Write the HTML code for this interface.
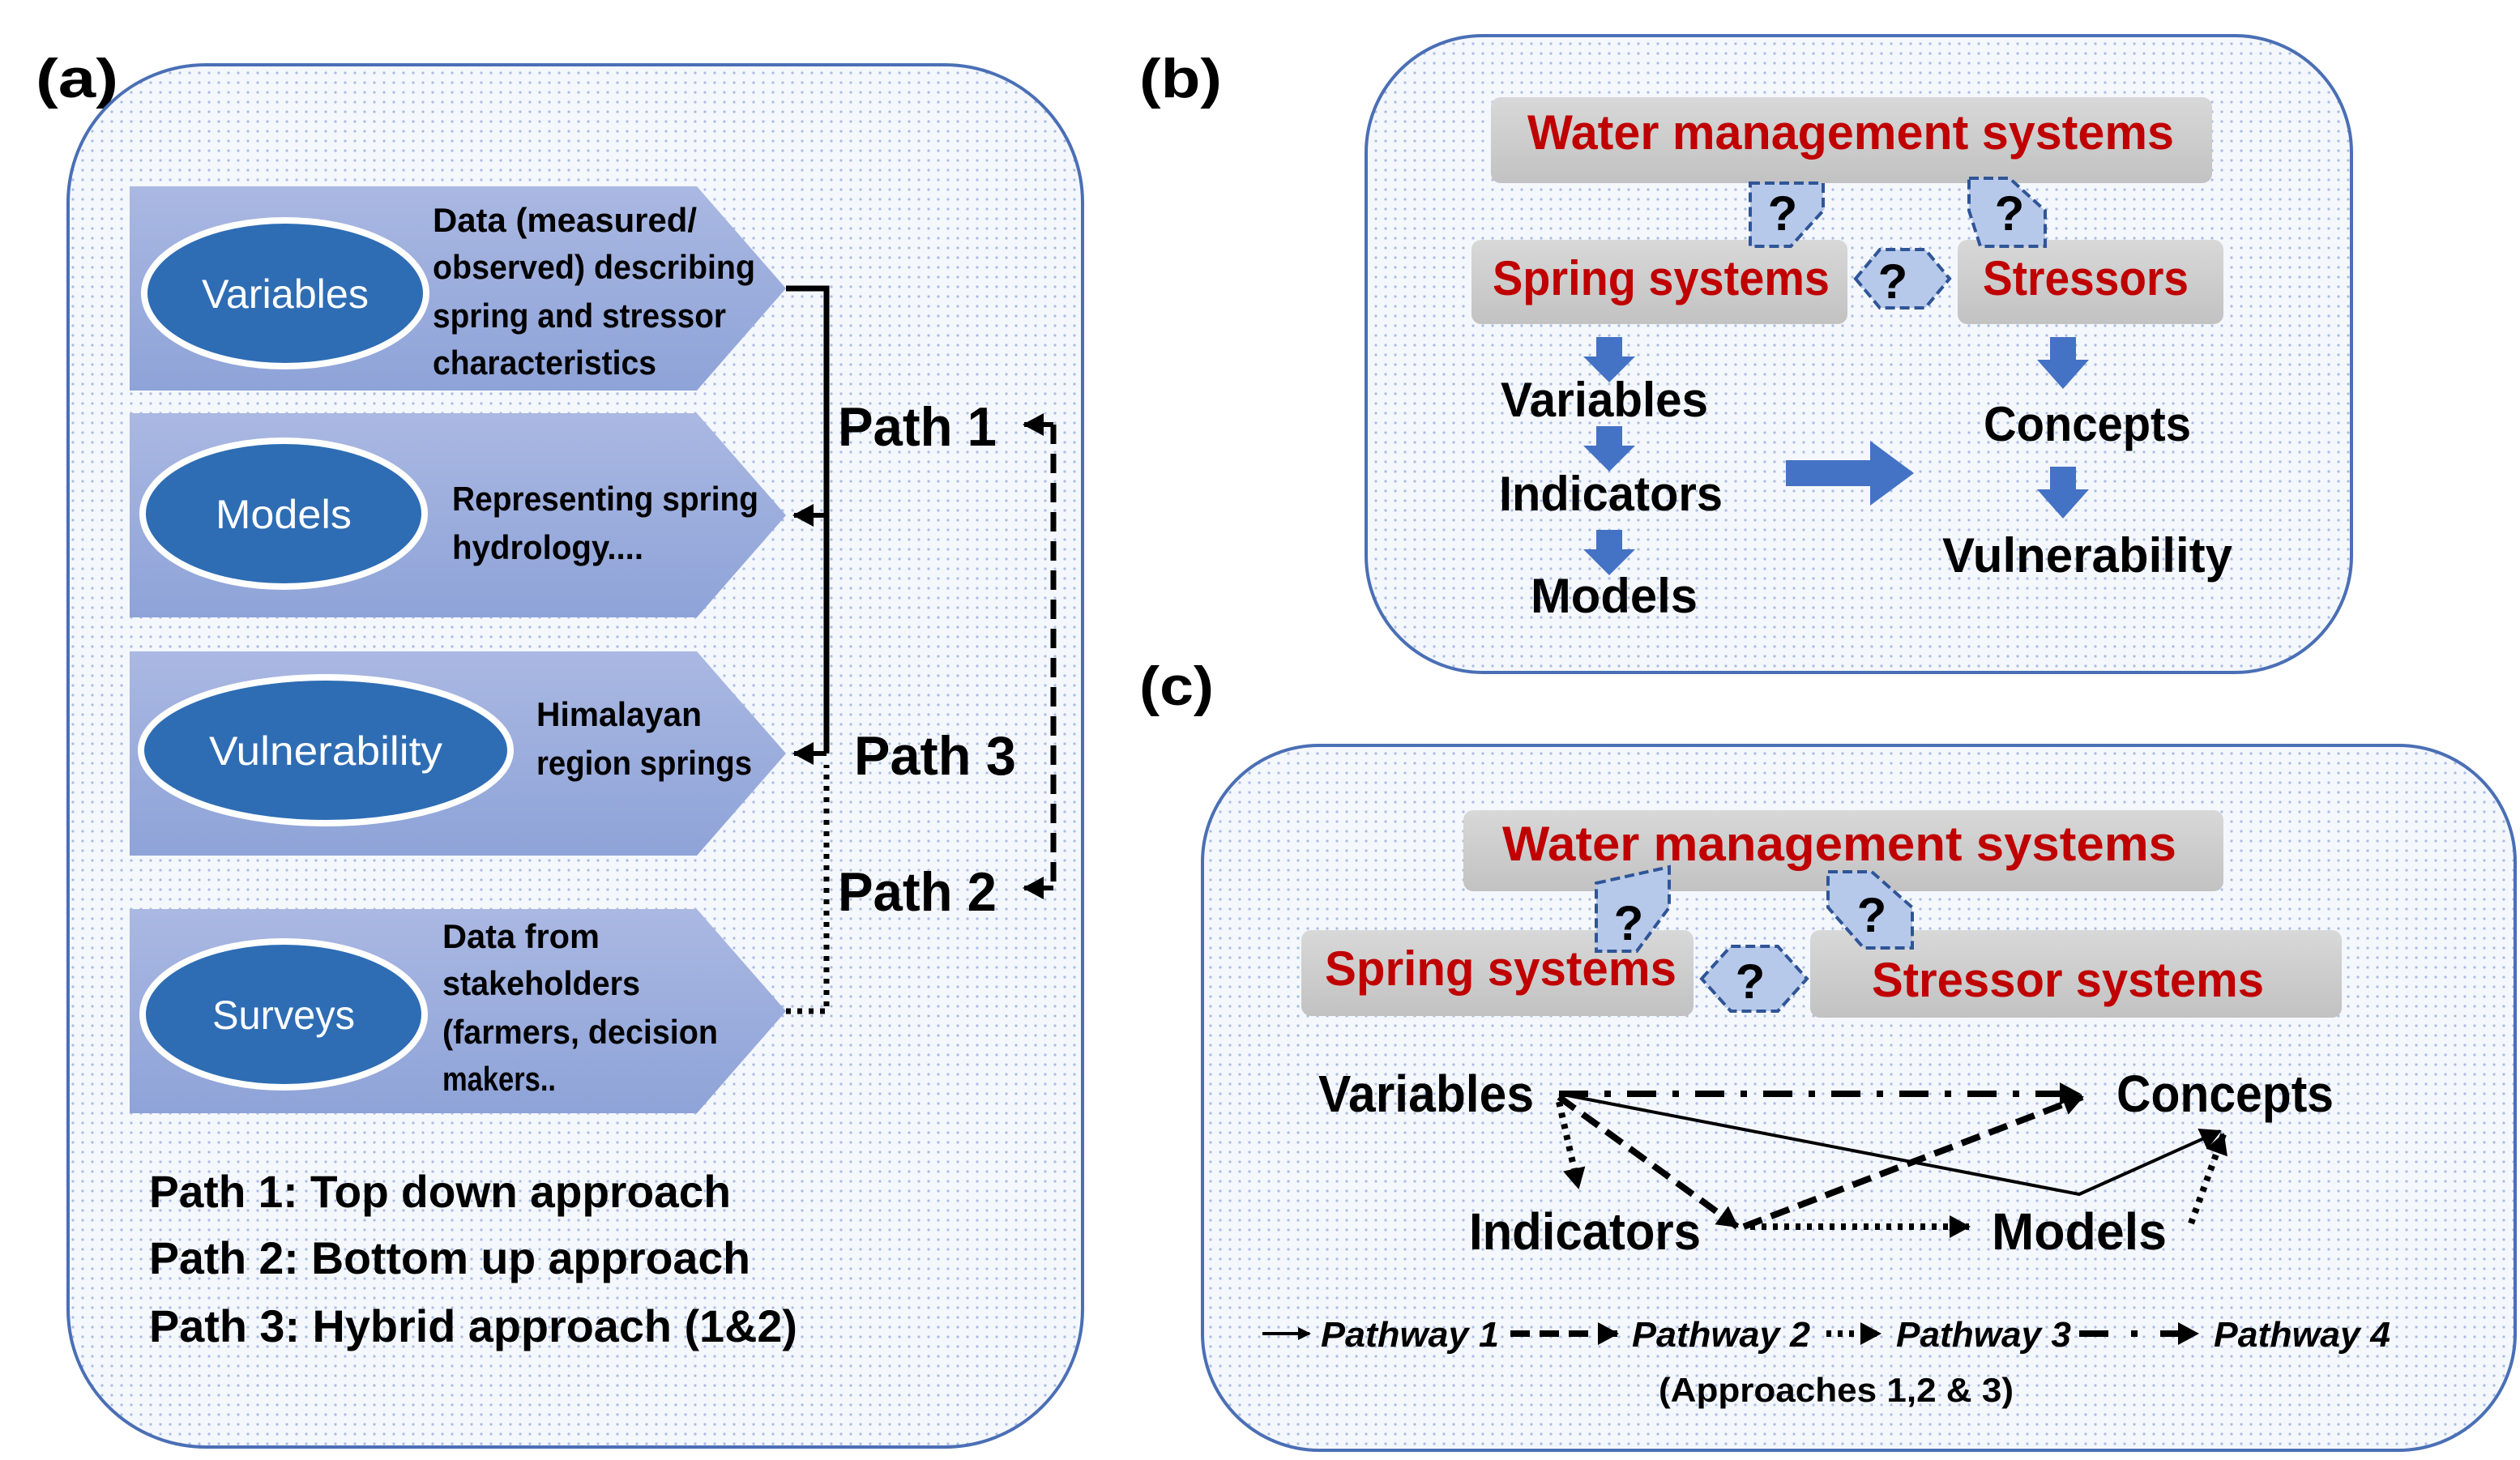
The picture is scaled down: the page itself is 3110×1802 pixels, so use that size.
<!DOCTYPE html>
<html><head><meta charset="utf-8"><style>
html,body{margin:0;padding:0;background:#fff}
svg{display:block}
text{font-family:"Liberation Sans Narrow","Liberation Sans",sans-serif;font-weight:bold}
</style></head><body>
<svg width="3110" height="1802" viewBox="0 0 1555 901" xmlns="http://www.w3.org/2000/svg">
<defs>
<pattern id="dots" width="6" height="6" patternUnits="userSpaceOnUse">
<rect width="6" height="6" fill="#f4f7fc"/><circle cx="3" cy="3" r="0.8" fill="#a9bde3"/>
</pattern>
<linearGradient id="chev" x1="0" y1="0" x2="0" y2="1"><stop offset="0" stop-color="#aab8e2"/><stop offset="1" stop-color="#8ea3d8"/></linearGradient>
<linearGradient id="gray" x1="0" y1="0" x2="0" y2="1"><stop offset="0" stop-color="#d8d8d8"/><stop offset="1" stop-color="#c2c2c2"/></linearGradient>
<marker id="ah" markerWidth="8" markerHeight="8" refX="7" refY="4" orient="auto" markerUnits="userSpaceOnUse"><path d="M0,0 L8,4 L0,8z" fill="#000"/></marker>
<marker id="ahL" markerWidth="14" markerHeight="14" refX="12" refY="7" orient="auto" markerUnits="userSpaceOnUse"><path d="M0,0 L13,7 L0,14z" fill="#000"/></marker>
</defs>

<!-- Panel a -->
<text x="22" y="60" font-size="34" fill="#000" textLength="51" lengthAdjust="spacingAndGlyphs">(a)</text>
<rect x="42" y="40" width="626" height="853" rx="85" fill="url(#dots)" stroke="#4a6fb5" stroke-width="2"/>
<g fill="url(#chev)">
<path d="M80,115 L430,115 L485,178 L430,241 L80,241z"/>
<path d="M80,255 L430,255 L485,318 L430,381 L80,381z"/>
<path d="M80,402 L430,402 L485,465 L430,528 L80,528z"/>
<path d="M80,561 L430,561 L485,624 L430,687 L80,687z"/>
</g>
<g fill="#2e6db4" stroke="#fff" stroke-width="4">
<ellipse cx="176" cy="181" rx="87" ry="45"/>
<ellipse cx="175" cy="317" rx="87" ry="45"/>
<ellipse cx="201" cy="463" rx="114" ry="45"/>
<ellipse cx="175" cy="626" rx="87" ry="45"/>
</g>
<g fill="#fff" font-size="25" text-anchor="middle">
<text x="176" y="190" style="font-weight:normal" textLength="103" lengthAdjust="spacingAndGlyphs">Variables</text>
<text x="175" y="326" style="font-weight:normal" textLength="84" lengthAdjust="spacingAndGlyphs">Models</text>
<text x="201" y="472" style="font-weight:normal" textLength="144" lengthAdjust="spacingAndGlyphs">Vulnerability</text>
<text x="175" y="635" style="font-weight:normal" textLength="88" lengthAdjust="spacingAndGlyphs">Surveys</text>
</g>
<g fill="#000" font-size="21">
<text x="267" y="143" textLength="163" lengthAdjust="spacingAndGlyphs">Data (measured/</text>
<text x="267" y="172" textLength="199" lengthAdjust="spacingAndGlyphs">observed) describing</text>
<text x="267" y="202" textLength="181" lengthAdjust="spacingAndGlyphs">spring and stressor</text>
<text x="267" y="231" textLength="138" lengthAdjust="spacingAndGlyphs">characteristics</text>
<text x="279" y="315" textLength="189" lengthAdjust="spacingAndGlyphs">Representing spring</text>
<text x="279" y="345" textLength="118" lengthAdjust="spacingAndGlyphs">hydrology....</text>
<text x="331" y="448" textLength="102" lengthAdjust="spacingAndGlyphs">Himalayan</text>
<text x="331" y="478" textLength="133" lengthAdjust="spacingAndGlyphs">region springs</text>
<text x="273" y="585" textLength="97" lengthAdjust="spacingAndGlyphs">Data from</text>
<text x="273" y="614" textLength="122" lengthAdjust="spacingAndGlyphs">stakeholders</text>
<text x="273" y="644" textLength="170" lengthAdjust="spacingAndGlyphs">(farmers, decision</text>
<text x="273" y="673" textLength="70" lengthAdjust="spacingAndGlyphs">makers..</text>
</g>
<path d="M485,178 L510,178 L510,465" fill="none" stroke="#000" stroke-width="3.5"/>
<path d="M510,318 L490,318" stroke="#000" stroke-width="3" marker-end="url(#ahL)"/>
<path d="M510,465 L490,465" stroke="#000" stroke-width="3" marker-end="url(#ahL)"/>
<path d="M485,624 L510,624 L510,472" fill="none" stroke="#000" stroke-width="3.5" stroke-dasharray="3,4"/>
<path d="M650,262 L650,548" stroke="#000" stroke-width="3.5" stroke-dasharray="12,6"/>
<path d="M650,262 L632,262" stroke="#000" stroke-width="3" marker-end="url(#ahL)"/>
<path d="M650,548 L632,548" stroke="#000" stroke-width="3" marker-end="url(#ahL)"/>
<g fill="#000" font-size="34">
<text x="517" y="275" textLength="98" lengthAdjust="spacingAndGlyphs">Path 1</text>
<text x="527" y="478" textLength="100" lengthAdjust="spacingAndGlyphs">Path 3</text>
<text x="517" y="562" textLength="98" lengthAdjust="spacingAndGlyphs">Path 2</text>
</g>
<g fill="#000" font-size="28">
<text x="92" y="745" textLength="359" lengthAdjust="spacingAndGlyphs">Path 1: Top down approach</text>
<text x="92" y="786" textLength="371" lengthAdjust="spacingAndGlyphs">Path 2: Bottom up approach</text>
<text x="92" y="828" textLength="400" lengthAdjust="spacingAndGlyphs">Path 3: Hybrid approach (1&amp;2)</text>
</g>

<!-- Panel b -->
<text x="703" y="60" font-size="34" fill="#000" textLength="51" lengthAdjust="spacingAndGlyphs">(b)</text>
<rect x="843" y="22" width="608" height="393" rx="72" fill="url(#dots)" stroke="#4a6fb5" stroke-width="2"/>
<rect x="920" y="60" width="445" height="53" rx="6" fill="url(#gray)"/>
<rect x="908" y="148" width="232" height="52" rx="6" fill="url(#gray)"/>
<rect x="1208" y="148" width="164" height="52" rx="6" fill="url(#gray)"/>
<g fill="#c00000" font-size="30" text-anchor="middle">
<text x="1142" y="92" textLength="399" lengthAdjust="spacingAndGlyphs">Water management systems</text>
<text x="1025" y="182" textLength="208" lengthAdjust="spacingAndGlyphs">Spring systems</text>
<text x="1287" y="182" textLength="127" lengthAdjust="spacingAndGlyphs">Stressors</text>
</g>
<g fill="#b7c9ea" stroke="#2f5597" stroke-width="2" stroke-dasharray="6,3">
<path d="M1080,113 L1125,113 L1125,130 L1105,152 L1080,152z"/>
<path d="M1215,110 L1240,110 L1262,130 L1262,152 L1222,152 L1215,130z"/>
<path d="M1145,172 L1160,154 L1188,154 L1203,172 L1188,190 L1160,190z"/>
</g>
<g fill="#000" font-size="30" text-anchor="middle">
<text x="1100" y="142">?</text><text x="1240" y="142">?</text><text x="1168" y="184">?</text>
</g>
<g fill="#4472c4">
<path d="M985,208 h16 v12 h8 l-16,16 l-16,-16 h8z"/>
<path d="M985,263 h16 v12 h8 l-16,16 l-16,-16 h8z"/>
<path d="M985,327 h16 v12 h8 l-16,16 l-16,-16 h8z"/>
<path d="M1265,208 h16 v14 h8 l-16,18 l-16,-18 h8z"/>
<path d="M1265,288 h16 v14 h8 l-16,18 l-16,-18 h8z"/>
<path d="M1102,284 h52 v-12 l27,20 l-27,20 v-12 h-52z"/>
</g>
<g fill="#000" font-size="30" text-anchor="middle">
<text x="990" y="257" textLength="128" lengthAdjust="spacingAndGlyphs">Variables</text>
<text x="994" y="315" textLength="138" lengthAdjust="spacingAndGlyphs">Indicators</text>
<text x="996" y="378" textLength="103" lengthAdjust="spacingAndGlyphs">Models</text>
<text x="1288" y="272" textLength="128" lengthAdjust="spacingAndGlyphs">Concepts</text>
<text x="1288" y="353" textLength="179" lengthAdjust="spacingAndGlyphs">Vulnerability</text>
</g>

<!-- Panel c -->
<text x="703" y="435" font-size="34" fill="#000" textLength="46" lengthAdjust="spacingAndGlyphs">(c)</text>
<rect x="742" y="460" width="810" height="435" rx="72" fill="url(#dots)" stroke="#4a6fb5" stroke-width="2"/>
<rect x="903" y="500" width="469" height="50" rx="6" fill="url(#gray)"/>
<rect x="803" y="574" width="242" height="53" rx="6" fill="url(#gray)"/>
<rect x="1117" y="574" width="328" height="54" rx="6" fill="url(#gray)"/>
<g fill="#b7c9ea" stroke="#2f5597" stroke-width="2" stroke-dasharray="6,3">
<path d="M985,545 L1030,535 L1030,560 L1010,587 L985,587z"/>
<path d="M1128,538 L1155,538 L1180,560 L1180,585 L1150,585 L1128,560z"/>
<path d="M1050,604 L1068,584 L1097,584 L1115,604 L1097,624 L1068,624z"/>
</g>
<g fill="#c00000" font-size="30" text-anchor="middle">
<text x="1135" y="531" textLength="416" lengthAdjust="spacingAndGlyphs">Water management systems</text>
<text x="926" y="608" textLength="217" lengthAdjust="spacingAndGlyphs">Spring systems</text>
<text x="1276" y="615" textLength="242" lengthAdjust="spacingAndGlyphs">Stressor systems</text>
</g>
<g fill="#000" font-size="30" text-anchor="middle">
<text x="1005" y="580">?</text><text x="1155" y="575">?</text><text x="1080" y="616">?</text>
</g>
<g fill="#000" font-size="32" text-anchor="middle">
<text x="880" y="686" textLength="133" lengthAdjust="spacingAndGlyphs">Variables</text>
<text x="1373" y="686" textLength="134" lengthAdjust="spacingAndGlyphs">Concepts</text>
<text x="978" y="771" textLength="143" lengthAdjust="spacingAndGlyphs">Indicators</text>
<text x="1283" y="771" textLength="108" lengthAdjust="spacingAndGlyphs">Models</text>
</g>
<g fill="none" stroke="#000">
<path d="M962,675 L1283,675" stroke-width="4" stroke-dasharray="18,10,4,10" marker-end="url(#ahL)"/>
<path d="M962,675 L1283,737 L1370,698" stroke-width="2" marker-end="url(#ahL)"/>
<path d="M962,677 L1072,757" stroke-width="4" stroke-dasharray="12,6" marker-end="url(#ahL)"/>
<path d="M1076,757 L1285,677" stroke-width="4" stroke-dasharray="12,6" marker-end="url(#ahL)"/>
<path d="M962,680 L974,733" stroke-width="4" stroke-dasharray="3,4" marker-end="url(#ahL)"/>
<path d="M1080,757 L1215,757" stroke-width="4" stroke-dasharray="3,4" marker-end="url(#ahL)"/>
<path d="M1352,755 L1372,700" stroke-width="4" stroke-dasharray="3,4" marker-end="url(#ahL)"/>
<path d="M779,823 L808,823" stroke-width="2" marker-end="url(#ah)"/>
<path d="M932,823 L998,823" stroke-width="4" stroke-dasharray="12,6" marker-end="url(#ahL)"/>
<path d="M1127,823 L1160,823" stroke-width="4" stroke-dasharray="3,4" marker-end="url(#ahL)"/>
<path d="M1283,823 L1356,823" stroke-width="4" stroke-dasharray="18,14,4,14" marker-end="url(#ahL)"/>
</g>
<g fill="#000" font-size="22" font-style="italic">
<text x="815" y="831" textLength="110" lengthAdjust="spacingAndGlyphs">Pathway 1</text>
<text x="1007" y="831" textLength="110" lengthAdjust="spacingAndGlyphs">Pathway 2</text>
<text x="1170" y="831" textLength="108" lengthAdjust="spacingAndGlyphs">Pathway 3</text>
<text x="1366" y="831" textLength="109" lengthAdjust="spacingAndGlyphs">Pathway 4</text>
</g>
<text x="1133" y="865" font-size="21" fill="#000" text-anchor="middle" textLength="219" lengthAdjust="spacingAndGlyphs">(Approaches 1,2 &amp; 3)</text>
</svg>
</body></html>
